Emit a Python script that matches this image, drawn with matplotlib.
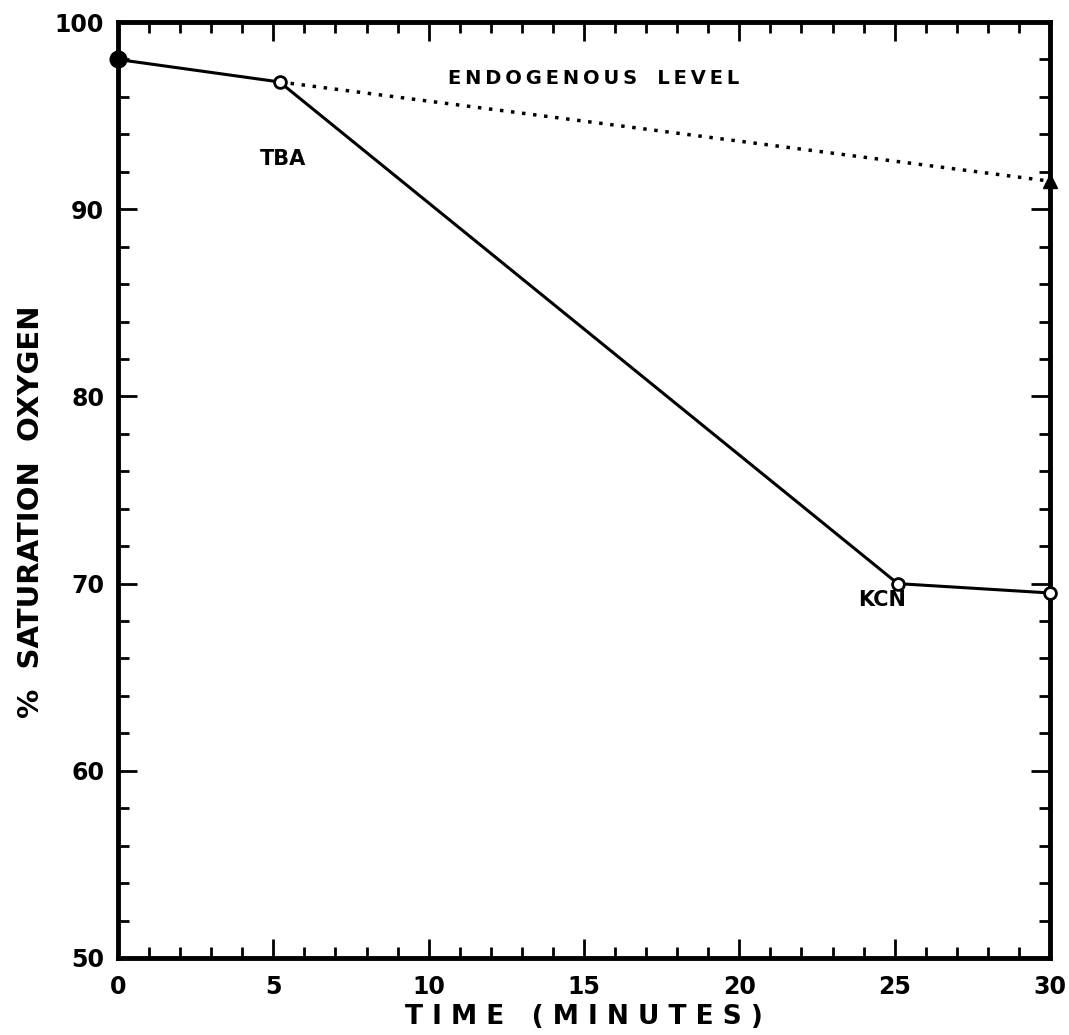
import matplotlib
matplotlib.use("Agg")
import matplotlib.pyplot as plt
from matplotlib.ticker import MultipleLocator

# data
time_treated = [0, 5.2, 25.1, 30]
oxygen_treated = [98.0, 96.8, 70.0, 69.5]
time_endo = [5.2, 30]
oxygen_endo = [96.8, 91.5]

plt.rcParams['font.family'] = ['DejaVu Sans']
plt.rcParams['font.weight'] = 'bold'

fig = plt.figure(figsize=(10.69, 10.35), dpi=100)
ax = fig.add_axes([0.1104, 0.0744, 0.8718, 0.9043])

# solid treated line
ax.plot(time_treated, oxygen_treated, color='black', lw=2.2, zorder=3)
ax.plot(time_treated[:1], oxygen_treated[:1], 'o', color='black', ms=12, zorder=4, clip_on=False)
ax.plot(time_treated[1:], oxygen_treated[1:], 'o', mfc='white', mec='black', mew=2, ms=8.5,
        zorder=4, clip_on=False)

# dotted endogenous line
ax.plot(time_endo, oxygen_endo, color='black', lw=2.5, ls=(0, (1, 2.2)), zorder=2)
ax.plot(time_endo[1:], oxygen_endo[1:], '^', color='black', ms=10, zorder=4, clip_on=False)

ax.text(15.3, 97.0, "E N D O G E N O U S   L E V E L".replace(" ", "\u2009").replace("\u2009\u2009\u2009", "   "),
        ha='center', va='center', fontsize=14)
ax.text(5.3, 92.7, "TBA", ha='center', va='center', fontsize=15)
ax.text(24.6, 69.1, "KCN", ha='center', va='center', fontsize=15)

ax.set_xlim(0, 30)
ax.set_ylim(50, 100)
ax.xaxis.set_major_locator(MultipleLocator(5))
ax.xaxis.set_minor_locator(MultipleLocator(1))
ax.yaxis.set_major_locator(MultipleLocator(10))
ax.yaxis.set_minor_locator(MultipleLocator(2))
ax.tick_params(which='both', direction='in', top=True, right=True, width=2, labelsize=17)
ax.tick_params(which='major', length=14)
ax.tick_params(which='minor', length=8)
ax.tick_params(axis='x', pad=12)
ax.tick_params(axis='y', pad=10)
for s in ax.spines.values():
    s.set_linewidth(3.5)

ax.set_xlabel("T I M E   ( M I N U T E S )", fontsize=19, fontweight='bold', labelpad=4)
ax.set_ylabel("%  SATURATION  OXYGEN", fontsize=21, fontweight='bold')
ax.yaxis.set_label_coords(-0.078, 0.477)

fig.savefig("out.png", dpi=100)
